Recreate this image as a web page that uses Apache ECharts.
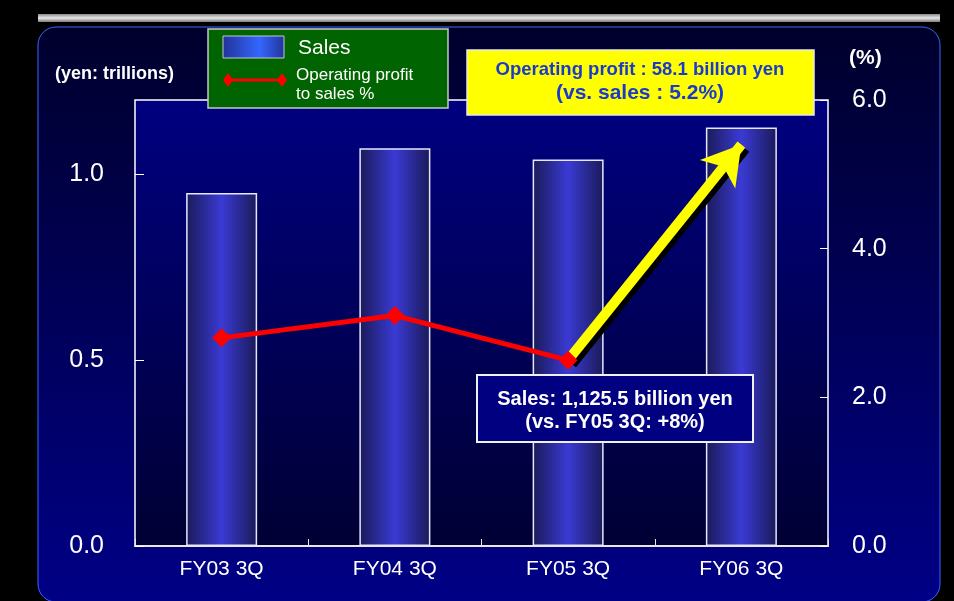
<!DOCTYPE html>
<html>
<head>
<meta charset="utf-8">
<script src="https://cdn.jsdelivr.net/npm/echarts@6/dist/echarts.min.js"></script>
<style>
  html, body { margin: 0; padding: 0; background: #000; }
  #chart { width: 954px; height: 601px; }
</style>
</head>
<body>
<div id="chart"></div>
<script>
// == Data ====================================================================
const categories = ['FY03 3Q', 'FY04 3Q', 'FY05 3Q', 'FY06 3Q']
const sales = [0.95, 1.07, 1.04, 1.126]          // yen: trillions
const profitRatio = [2.8, 3.1, 2.5, null]        // operating profit to sales %
const arrowFrom = ['FY05 3Q', 2.5]
const arrowTo = ['FY06 3Q', 5.4]
const salesTicks = { min: 0, max: 1.2, interval: 0.5 }
const ratioTicks = { min: 0, max: 6, interval: 2 }

const FONT = 'Liberation Sans, Arial, sans-serif'
const barGradient = new echarts.graphic.LinearGradient(0, 0, 1, 0, [
  { offset: 0, color: '#1a1a58' },
  { offset: 0.5, color: '#3a3ad4' },
  { offset: 1, color: '#1a1a58' }
])

const chart = echarts.init(document.getElementById('chart'), null, { renderer: 'canvas' })

// overlay elements (boxes, notes) sit above the series
const TOP = 100

const option = {
  backgroundColor: '#000',
  animation: false,
  textStyle: { fontFamily: FONT },
  grid: {
    left: 135, right: 126, top: 100, bottom: 55,
    show: true,
    borderColor: '#ffffff',
    borderWidth: 1.5,
    backgroundColor: new echarts.graphic.LinearGradient(0, 0, 0, 1, [
      { offset: 0, color: '#000080' },
      { offset: 1, color: '#000034' }
    ])
  },
  xAxis: {
    type: 'category',
    data: categories,
    axisLine: { lineStyle: { color: '#e8e8e8', width: 2 } },
    axisTick: { show: true, inside: true, length: 7, lineStyle: { color: '#e8e8e8', width: 1 } },
    axisLabel: { color: '#fff', fontSize: 21, margin: 13, fontFamily: FONT }
  },
  yAxis: [
    {
      type: 'value',
      position: 'left',
      min: salesTicks.min, max: salesTicks.max, interval: salesTicks.interval,
      splitLine: { show: false },
      axisLine: { show: false },
      axisTick: { show: true, inside: true, length: 9, lineStyle: { color: '#fff' } },
      axisLabel: {
        color: '#fff', fontSize: 25, margin: 31, fontFamily: FONT,
        showMaxLabel: false,
        formatter: v => v.toFixed(1)
      }
    },
    {
      type: 'value',
      position: 'right',
      min: ratioTicks.min, max: ratioTicks.max, interval: ratioTicks.interval,
      splitLine: { show: false },
      axisLine: { show: false },
      axisTick: { show: true, inside: true, length: 8, lineStyle: { color: '#fff' } },
      axisLabel: {
        color: '#fff', fontSize: 25, margin: 24, fontFamily: FONT,
        formatter: v => v.toFixed(1)
      }
    }
  ],
  series: [
    {
      name: 'Sales',
      type: 'bar',
      yAxisIndex: 0,
      data: sales,
      barWidth: 71,
      itemStyle: { color: barGradient, borderColor: '#e6e6ff', borderWidth: 1.5 },
      silent: true
    },
    {
      name: 'Operating profit to sales %',
      type: 'line',
      yAxisIndex: 1,
      data: profitRatio,
      z: 5,
      symbol: 'diamond',
      symbolSize: 19,
      lineStyle: { color: '#ff0000', width: 5 },
      itemStyle: { color: '#ff0000' },
      silent: true,
      markLine: {
        silent: true,
        z: 4,
        symbol: ['none', 'arrow'],
        symbolSize: [34, 38],
        label: { show: false },
        lineStyle: {
          color: '#ffff00', width: 10, type: 'solid', opacity: 1,
          shadowColor: '#000', shadowOffsetX: 4, shadowOffsetY: 4, shadowBlur: 0
        },
        data: [[{ coord: arrowFrom }, { coord: arrowTo }]]
      }
    }
  ],
  graphic: [
    // top gray bar
    {
      type: 'rect', z: -10,
      shape: { x: 38, y: 14, width: 902, height: 8 },
      style: {
        fill: new echarts.graphic.LinearGradient(0, 0, 0, 1, [
          { offset: 0, color: '#8a8a8a' },
          { offset: 0.5, color: '#e6e6e6' },
          { offset: 1, color: '#7a7a7a' }
        ])
      }
    },
    // panel
    {
      type: 'rect', z: -10,
      shape: { x: 38, y: 27, width: 902, height: 575, r: 18 },
      style: {
        fill: new echarts.graphic.LinearGradient(0, 0, 0, 1, [
          { offset: 0, color: '#00002c' },
          { offset: 1, color: '#000086' }
        ]),
        stroke: '#3d66ff',
        lineWidth: 1
      }
    },
    {
      type: 'text', z: TOP,
      style: { x: 55, y: 74, text: '(yen: trillions)', fill: '#fff', font: 'bold 18px ' + FONT, verticalAlign: 'middle' }
    },
    {
      type: 'text', z: TOP,
      style: { x: 849, y: 58, text: '(%)', fill: '#fff', font: 'bold 21px ' + FONT, verticalAlign: 'middle' }
    },
    // legend box
    {
      type: 'rect', z: TOP,
      shape: { x: 208, y: 29, width: 240, height: 79 },
      style: { fill: '#006400', stroke: '#c8c8c8', lineWidth: 1.5 }
    },
    {
      type: 'rect', z: TOP + 1,
      shape: { x: 223, y: 36, width: 61, height: 22 },
      style: {
        fill: new echarts.graphic.LinearGradient(0, 0, 1, 0, [
          { offset: 0, color: '#223399' },
          { offset: 0.6, color: '#3366ff' },
          { offset: 1, color: '#223399' }
        ]),
        stroke: '#c8c8c8', lineWidth: 1
      }
    },
    {
      type: 'text', z: TOP + 1,
      style: { x: 298, y: 48, text: 'Sales', fill: '#fff', font: '21px ' + FONT, verticalAlign: 'middle' }
    },
    {
      type: 'line', z: TOP + 1,
      shape: { x1: 229, y1: 80, x2: 281, y2: 80 },
      style: { stroke: '#ff0000', lineWidth: 3 }
    },
    {
      type: 'polygon', z: TOP + 1,
      shape: { points: [[228, 73], [233, 80], [228, 87], [223, 80]] },
      style: { fill: '#ff0000' }
    },
    {
      type: 'polygon', z: TOP + 1,
      shape: { points: [[282, 73], [287, 80], [282, 87], [277, 80]] },
      style: { fill: '#ff0000' }
    },
    {
      type: 'text', z: TOP + 1,
      style: { x: 296, y: 75, text: 'Operating profit', fill: '#fff', font: '17px ' + FONT, verticalAlign: 'middle' }
    },
    {
      type: 'text', z: TOP + 1,
      style: { x: 296, y: 94, text: 'to sales %', fill: '#fff', font: '17px ' + FONT, verticalAlign: 'middle' }
    },
    // yellow callout
    {
      type: 'rect', z: TOP,
      shape: { x: 467, y: 50, width: 347, height: 65 },
      style: { fill: '#ffff00', stroke: '#e8e8e8', lineWidth: 1.5 }
    },
    {
      type: 'text', z: TOP + 1,
      style: { x: 640, y: 70, text: 'Operating profit : 58.1 billion yen', fill: '#1a3acc', font: 'bold 18.5px ' + FONT, align: 'center', verticalAlign: 'middle' }
    },
    {
      type: 'text', z: TOP + 1,
      style: { x: 640, y: 93, text: '(vs. sales : 5.2%)', fill: '#1a3acc', font: 'bold 21px ' + FONT, align: 'center', verticalAlign: 'middle' }
    },
    // sales callout
    {
      type: 'rect', z: TOP,
      shape: { x: 477, y: 375, width: 276, height: 67 },
      style: { fill: '#000080', stroke: '#f0f0f0', lineWidth: 2 }
    },
    {
      type: 'text', z: TOP + 1,
      style: { x: 615, y: 399, text: 'Sales: 1,125.5 billion yen', fill: '#fff', font: 'bold 20px ' + FONT, align: 'center', verticalAlign: 'middle' }
    },
    {
      type: 'text', z: TOP + 1,
      style: { x: 615, y: 422, text: '(vs. FY05 3Q: +8%)', fill: '#fff', font: 'bold 20px ' + FONT, align: 'center', verticalAlign: 'middle' }
    }
  ]
}

chart.setOption(option)
</script>
</body>
</html>
